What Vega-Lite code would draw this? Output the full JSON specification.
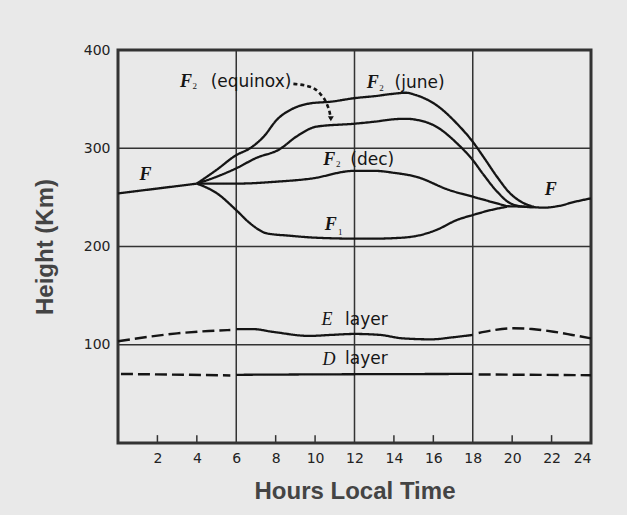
{
  "$schema": "https://vega.github.io/schema/vega-lite/v6.json",
  "width": 473,
  "height": 393,
  "autosize": {"type": "none"},
  "padding": {"left": 118, "top": 50, "right": 36, "bottom": 72},
  "background": "#e9e9e9",
  "config": {
    "view": {"stroke": "#333333", "strokeWidth": 3},
    "axis": {"labelFont": "DejaVu Sans", "titleFont": "Liberation Sans", "labelColor": "#222222", "titleColor": "#444444", "domain": false, "ticks": false, "grid": false, "labelFontSize": 14, "titleFontSize": 24, "titleFontWeight": "bold"}
  },
  "datasets": {
    "curves": [
      {"series": "F_left", "style": "solid", "h": 0, "km": 254},
      {"series": "F_left", "style": "solid", "h": 1, "km": 256.5},
      {"series": "F_left", "style": "solid", "h": 2, "km": 259},
      {"series": "F_left", "style": "solid", "h": 3, "km": 261.5},
      {"series": "F_left", "style": "solid", "h": 4, "km": 264},
      {"series": "June", "style": "solid", "h": 4, "km": 264},
      {"series": "June", "style": "solid", "h": 5, "km": 278},
      {"series": "June", "style": "solid", "h": 6, "km": 293},
      {"series": "June", "style": "solid", "h": 6.7, "km": 300},
      {"series": "June", "style": "solid", "h": 7.4, "km": 312},
      {"series": "June", "style": "solid", "h": 8.06, "km": 329},
      {"series": "June", "style": "solid", "h": 8.9, "km": 340.6},
      {"series": "June", "style": "solid", "h": 9.76, "km": 345.7},
      {"series": "June", "style": "solid", "h": 10.8, "km": 347.4},
      {"series": "June", "style": "solid", "h": 12, "km": 351},
      {"series": "June", "style": "solid", "h": 13, "km": 353},
      {"series": "June", "style": "solid", "h": 14, "km": 355.5},
      {"series": "June", "style": "solid", "h": 14.6, "km": 356.5},
      {"series": "June", "style": "solid", "h": 15.13, "km": 354},
      {"series": "June", "style": "solid", "h": 16.15, "km": 344},
      {"series": "June", "style": "solid", "h": 17.2, "km": 325},
      {"series": "June", "style": "solid", "h": 18, "km": 306.6},
      {"series": "June", "style": "solid", "h": 18.55, "km": 291},
      {"series": "June", "style": "solid", "h": 19.23, "km": 271},
      {"series": "June", "style": "solid", "h": 19.9, "km": 254},
      {"series": "June", "style": "solid", "h": 20.6, "km": 244},
      {"series": "June", "style": "solid", "h": 21.1, "km": 240.5},
      {"series": "Equinox", "style": "solid", "h": 4, "km": 264},
      {"series": "Equinox", "style": "solid", "h": 5, "km": 271},
      {"series": "Equinox", "style": "solid", "h": 6, "km": 279.6},
      {"series": "Equinox", "style": "solid", "h": 7, "km": 290},
      {"series": "Equinox", "style": "solid", "h": 8.2, "km": 299},
      {"series": "Equinox", "style": "solid", "h": 9.06, "km": 312},
      {"series": "Equinox", "style": "solid", "h": 10.07, "km": 322},
      {"series": "Equinox", "style": "solid", "h": 12, "km": 325},
      {"series": "Equinox", "style": "solid", "h": 13, "km": 327},
      {"series": "Equinox", "style": "solid", "h": 14, "km": 329.5},
      {"series": "Equinox", "style": "solid", "h": 14.6, "km": 330},
      {"series": "Equinox", "style": "solid", "h": 15.13, "km": 329},
      {"series": "Equinox", "style": "solid", "h": 16.15, "km": 322},
      {"series": "Equinox", "style": "solid", "h": 17.2, "km": 305},
      {"series": "Equinox", "style": "solid", "h": 18, "km": 288},
      {"series": "Equinox", "style": "solid", "h": 18.55, "km": 273},
      {"series": "Equinox", "style": "solid", "h": 19.23, "km": 256},
      {"series": "Equinox", "style": "solid", "h": 19.9, "km": 244},
      {"series": "Equinox", "style": "solid", "h": 20.6, "km": 240.5},
      {"series": "Equinox", "style": "solid", "h": 21.1, "km": 240},
      {"series": "Dec", "style": "solid", "h": 4, "km": 264},
      {"series": "Dec", "style": "solid", "h": 6, "km": 264},
      {"series": "Dec", "style": "solid", "h": 8.06, "km": 266},
      {"series": "Dec", "style": "solid", "h": 9.76, "km": 269},
      {"series": "Dec", "style": "solid", "h": 12, "km": 277},
      {"series": "Dec", "style": "solid", "h": 13, "km": 277},
      {"series": "Dec", "style": "solid", "h": 14, "km": 275},
      {"series": "Dec", "style": "solid", "h": 15.13, "km": 271},
      {"series": "Dec", "style": "solid", "h": 16.8, "km": 257.5},
      {"series": "Dec", "style": "solid", "h": 18, "km": 250.7},
      {"series": "Dec", "style": "solid", "h": 19.74, "km": 241},
      {"series": "F1", "style": "solid", "h": 4, "km": 264},
      {"series": "F1", "style": "solid", "h": 5.03, "km": 254},
      {"series": "F1", "style": "solid", "h": 6, "km": 237},
      {"series": "F1", "style": "solid", "h": 6.7, "km": 223.6},
      {"series": "F1", "style": "solid", "h": 7.55, "km": 213.4},
      {"series": "F1", "style": "solid", "h": 8.7, "km": 211},
      {"series": "F1", "style": "solid", "h": 10, "km": 209},
      {"series": "F1", "style": "solid", "h": 12.1, "km": 208},
      {"series": "F1", "style": "solid", "h": 13, "km": 208},
      {"series": "F1", "style": "solid", "h": 14, "km": 208.5},
      {"series": "F1", "style": "solid", "h": 15.13, "km": 210.7},
      {"series": "F1", "style": "solid", "h": 16.15, "km": 216.8},
      {"series": "F1", "style": "solid", "h": 17.2, "km": 227},
      {"series": "F1", "style": "solid", "h": 18, "km": 232},
      {"series": "F1", "style": "solid", "h": 18.9, "km": 237},
      {"series": "F1", "style": "solid", "h": 19.74, "km": 240.5},
      {"series": "F_right", "style": "solid", "h": 19.74, "km": 241},
      {"series": "F_right", "style": "solid", "h": 20.6, "km": 240.5},
      {"series": "F_right", "style": "solid", "h": 21.1, "km": 240},
      {"series": "F_right", "style": "solid", "h": 21.6, "km": 239.5},
      {"series": "F_right", "style": "solid", "h": 22.3, "km": 241},
      {"series": "F_right", "style": "solid", "h": 23.2, "km": 245.6},
      {"series": "F_right", "style": "solid", "h": 24, "km": 249},
      {"series": "E1", "style": "dashed", "h": 0, "km": 103.5},
      {"series": "E1", "style": "dashed", "h": 1.58, "km": 108.2},
      {"series": "E1", "style": "dashed", "h": 3, "km": 111.6},
      {"series": "E1", "style": "dashed", "h": 4.6, "km": 114},
      {"series": "E1", "style": "dashed", "h": 5.7, "km": 115},
      {"series": "E2", "style": "solid", "h": 6, "km": 116},
      {"series": "E2", "style": "solid", "h": 6.8, "km": 116},
      {"series": "E2", "style": "solid", "h": 7.9, "km": 113},
      {"series": "E2", "style": "solid", "h": 9.7, "km": 109},
      {"series": "E2", "style": "solid", "h": 10.8, "km": 110},
      {"series": "E2", "style": "solid", "h": 12, "km": 111},
      {"series": "E2", "style": "solid", "h": 13.3, "km": 110},
      {"series": "E2", "style": "solid", "h": 14.45, "km": 106.5},
      {"series": "E2", "style": "solid", "h": 15.9, "km": 105.5},
      {"series": "E2", "style": "solid", "h": 17, "km": 107.6},
      {"series": "E2", "style": "solid", "h": 18, "km": 110},
      {"series": "E3", "style": "dashed", "h": 18.3, "km": 112},
      {"series": "E3", "style": "dashed", "h": 19.1, "km": 115},
      {"series": "E3", "style": "dashed", "h": 20.05, "km": 116.7},
      {"series": "E3", "style": "dashed", "h": 21, "km": 116},
      {"series": "E3", "style": "dashed", "h": 22.1, "km": 113.3},
      {"series": "E3", "style": "dashed", "h": 23.05, "km": 110},
      {"series": "E3", "style": "dashed", "h": 24, "km": 106.5},
      {"series": "D1", "style": "dashed", "h": 0.15, "km": 70.3},
      {"series": "D1", "style": "dashed", "h": 5.7, "km": 68.8},
      {"series": "D2", "style": "solid", "h": 6, "km": 69.4},
      {"series": "D2", "style": "solid", "h": 12, "km": 70},
      {"series": "D2", "style": "solid", "h": 18, "km": 70.3},
      {"series": "D3", "style": "dashed", "h": 18.3, "km": 69.8},
      {"series": "D3", "style": "dashed", "h": 24, "km": 69},
      {"series": "Arrow", "style": "arrow", "h": 8.9, "km": 365.5},
      {"series": "Arrow", "style": "arrow", "h": 9.74, "km": 362.6},
      {"series": "Arrow", "style": "arrow", "h": 10.24, "km": 355.9},
      {"series": "Arrow", "style": "arrow", "h": 10.58, "km": 345.7},
      {"series": "Arrow", "style": "arrow", "h": 10.75, "km": 335.6},
      {"series": "Arrow", "style": "arrow", "h": 10.8, "km": 330}
    ],
    "arrowhead": [{"h": 10.8, "km": 330}],
    "vgrid": [{"h": 6}, {"h": 12}, {"h": 18}],
    "hgrid": [{"km": 100}, {"km": 200}, {"km": 300}],
    "ticks": [{"h": 2}, {"h": 4}, {"h": 8}, {"h": 10}, {"h": 14}, {"h": 16}, {"h": 20}, {"h": 22}],
    "labels": [
      {"text": "F", "kind": "F", "h": 1.4, "km": 273},
      {"text": "F", "kind": "F", "h": 21.96, "km": 257.5},
      {"text": "F", "kind": "F", "h": 3.45, "km": 367.7},
      {"text": "2", "kind": "sub", "h": 3.9, "km": 363},
      {"text": "(equinox)", "kind": "txt", "h": 6.75, "km": 367.7},
      {"text": "F", "kind": "F", "h": 12.92, "km": 366},
      {"text": "2", "kind": "sub", "h": 13.37, "km": 361.5},
      {"text": "(june)", "kind": "txt", "h": 15.3, "km": 366},
      {"text": "F", "kind": "F", "h": 10.72, "km": 288},
      {"text": "2", "kind": "sub", "h": 11.17, "km": 283.5},
      {"text": "(dec)", "kind": "txt", "h": 12.9, "km": 288},
      {"text": "F", "kind": "F", "h": 10.8, "km": 222},
      {"text": "1", "kind": "sub", "h": 11.28, "km": 215},
      {"text": "E", "kind": "I", "h": 10.6, "km": 125.2},
      {"text": "layer", "kind": "txt", "h": 12.6, "km": 125.2},
      {"text": "D", "kind": "I", "h": 10.7, "km": 84.5},
      {"text": "layer", "kind": "txt", "h": 12.6, "km": 85.5}
    ]
  },
  "layer": [
    {
      "data": {"name": "hgrid"},
      "mark": {"type": "rule", "color": "#333333", "strokeWidth": 1.5},
      "encoding": {
        "y": {"field": "km", "type": "quantitative", "scale": {"domain": [0, 400], "nice": false},
              "axis": {"values": [100, 200, 300, 400], "title": "Height (Km)", "titlePadding": 26, "labelPadding": 8}}
      }
    },
    {
      "data": {"name": "vgrid"},
      "mark": {"type": "rule", "color": "#333333", "strokeWidth": 1.5},
      "encoding": {
        "x": {"field": "h", "type": "quantitative", "scale": {"domain": [0, 24], "nice": false},
              "axis": {"values": [2, 4, 6, 8, 10, 12, 14, 16, 18, 20, 22, 24], "title": "Hours Local Time", "titlePadding": 14, "labelPadding": 8}}
      }
    },
    {
      "data": {"name": "ticks"},
      "mark": {"type": "rule", "color": "#333333", "strokeWidth": 1.5},
      "encoding": {
        "x": {"field": "h", "type": "quantitative"},
        "y": {"datum": 0},
        "y2": {"datum": 8}
      }
    },
    {
      "data": {"name": "curves"},
      "mark": {"type": "line", "interpolate": "monotone", "color": "#151515"},
      "encoding": {
        "x": {"field": "h", "type": "quantitative"},
        "y": {"field": "km", "type": "quantitative"},
        "detail": {"field": "series", "type": "nominal"},
        "strokeDash": {"field": "style", "type": "nominal", "scale": {"domain": ["solid", "dashed", "arrow"], "range": [[1, 0], [12, 5], [4, 3]]}, "legend": null},
        "strokeWidth": {"field": "style", "type": "ordinal", "scale": {"domain": ["solid", "dashed", "arrow"], "range": [2.3, 2.6, 1.3]}, "legend": null}
      }
    },
    {
      "data": {"name": "arrowhead"},
      "mark": {"type": "point", "shape": "triangle-down", "filled": true, "color": "#151515", "size": 35, "opacity": 1},
      "encoding": {
        "x": {"field": "h", "type": "quantitative"},
        "y": {"field": "km", "type": "quantitative"}
      }
    },
    {
      "data": {"name": "labels"},
      "transform": [{"filter": "datum.kind === 'F'"}],
      "mark": {"type": "text", "font": "Liberation Serif", "fontStyle": "italic", "fontWeight": "bold", "fontSize": 18, "color": "#151515", "baseline": "middle", "align": "center"},
      "encoding": {
        "x": {"field": "h", "type": "quantitative"},
        "y": {"field": "km", "type": "quantitative"},
        "text": {"field": "text"}
      }
    },
    {
      "data": {"name": "labels"},
      "transform": [{"filter": "datum.kind === 'I'"}],
      "mark": {"type": "text", "font": "Liberation Serif", "fontStyle": "italic", "fontSize": 18, "color": "#151515", "baseline": "middle", "align": "center"},
      "encoding": {
        "x": {"field": "h", "type": "quantitative"},
        "y": {"field": "km", "type": "quantitative"},
        "text": {"field": "text"}
      }
    },
    {
      "data": {"name": "labels"},
      "transform": [{"filter": "datum.kind === 'sub'"}],
      "mark": {"type": "text", "font": "Liberation Serif", "fontSize": 9, "color": "#151515", "baseline": "middle", "align": "center"},
      "encoding": {
        "x": {"field": "h", "type": "quantitative"},
        "y": {"field": "km", "type": "quantitative"},
        "text": {"field": "text"}
      }
    },
    {
      "data": {"name": "labels"},
      "transform": [{"filter": "datum.kind === 'txt'"}],
      "mark": {"type": "text", "font": "DejaVu Sans", "fontSize": 17, "color": "#151515", "baseline": "middle", "align": "center"},
      "encoding": {
        "x": {"field": "h", "type": "quantitative"},
        "y": {"field": "km", "type": "quantitative"},
        "text": {"field": "text"}
      }
    }
  ]
}
